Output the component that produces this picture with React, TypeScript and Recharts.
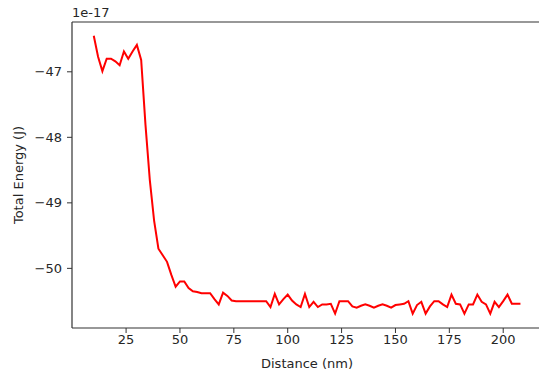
import React from 'react';
import { LineChart, Line, XAxis, YAxis, ReferenceLine } from 'recharts';

// Distance (nm)
const distance: number[] = [
  10, 12, 14, 16, 18, 20, 22, 24, 26, 28,
  30, 32, 34, 36, 38, 40, 42, 44, 46, 48,
  50, 52, 54, 56, 58, 60, 62, 64, 66, 68,
  70, 72, 74, 76, 78, 80, 82, 84, 86, 88,
  90, 92, 94, 96, 98, 100, 102, 104, 106, 108,
  110, 112, 114, 116, 118, 120, 122, 124, 126, 128,
  130, 132, 134, 136, 138, 140, 142, 144, 146, 148,
  150, 152, 154, 156, 158, 160, 162, 164, 166, 168,
  170, 172, 174, 176, 178, 180, 182, 184, 186, 188,
  190, 192, 194, 196, 198, 200, 202, 204, 206, 208,
];

// Total energy in units of 1e-17 J
const energy: number[] = [
  -46.45, -46.77, -46.99, -46.80, -46.80, -46.84, -46.90, -46.69, -46.80, -46.69,
  -46.59, -46.82, -47.81, -48.65, -49.27, -49.70, -49.80, -49.90, -50.10, -50.28,
  -50.20, -50.20, -50.30, -50.35, -50.36, -50.38, -50.38, -50.38, -50.47, -50.55,
  -50.37, -50.42, -50.49, -50.50, -50.50, -50.50, -50.50, -50.50, -50.50, -50.50,
  -50.50, -50.59, -50.39, -50.55, -50.47, -50.40, -50.49, -50.55, -50.59, -50.39,
  -50.59, -50.51, -50.59, -50.55, -50.55, -50.54, -50.69, -50.50, -50.50, -50.50,
  -50.58, -50.60, -50.57, -50.55, -50.57, -50.60, -50.57, -50.55, -50.57, -50.60,
  -50.56, -50.55, -50.54, -50.50, -50.69, -50.56, -50.51, -50.69, -50.58, -50.50,
  -50.50, -50.55, -50.59, -50.40, -50.54, -50.55, -50.69, -50.55, -50.55, -50.40,
  -50.51, -50.55, -50.69, -50.51, -50.59, -50.50, -50.40, -50.54, -50.54, -50.54,
];

const xTicks: number[] = [25, 50, 75, 100, 125, 150, 175, 200];
const yTicks: number[] = [-47, -48, -49, -50];
const X_DOMAIN: [number, number] = [-0.1, 218];
const Y_DOMAIN: [number, number] = [-50.91, -46.24];

const data = distance.map((d, i) => ({ distance: d, energy: energy[i] }));

const FONT = 'DejaVu Sans, sans-serif';
const INK = '#262626';
const AXIS = '#333333';

const fmtY = (v: number) => (v < 0 ? '\u2212' + Math.abs(v) : String(v));

export default function App() {
  return (
    <div
      style={{
        position: 'absolute',
        left: 0,
        top: 0,
        width: 539,
        height: 375,
        overflow: 'hidden',
        background: '#fff',
        fontFamily: FONT,
      }}
    >
      <div
        style={{
          position: 'absolute',
          left: 72,
          top: 5,
          fontSize: 13,
          color: INK,
          fontFamily: FONT,
          lineHeight: '16px',
        }}
      >
        1e-17
      </div>
      <LineChart
        width={560}
        height={375}
        data={data}
        margin={{ top: 22, right: 18, bottom: 0, left: 0 }}
      >
        <XAxis
          dataKey="distance"
          type="number"
          domain={X_DOMAIN}
          ticks={xTicks}
          allowDataOverflow
          height={47}
          tickSize={5}
          tickMargin={2}
          stroke={AXIS}
          tick={{ fill: INK, fontSize: 13, fontFamily: FONT }}
          tickLine={{ stroke: AXIS }}
          axisLine={{ stroke: AXIS, strokeWidth: 1.2 }}
          label={{
            value: 'Distance (nm)',
            position: 'insideBottom',
            offset: 7,
            fill: INK,
            fontSize: 13,
            fontFamily: FONT,
          }}
        />
        <YAxis
          type="number"
          domain={Y_DOMAIN}
          ticks={yTicks}
          allowDataOverflow
          width={72}
          tickSize={5}
          tickMargin={5}
          stroke={AXIS}
          tickFormatter={fmtY}
          tick={{ fill: INK, fontSize: 13, fontFamily: FONT }}
          tickLine={{ stroke: AXIS }}
          axisLine={{ stroke: AXIS, strokeWidth: 1.2 }}
          label={{
            value: 'Total Energy (J)',
            angle: -90,
            position: 'insideLeft',
            offset: 18,
            fill: INK,
            fontSize: 13,
            fontFamily: FONT,
            style: { textAnchor: 'middle' },
          }}
        />
        <ReferenceLine y={Y_DOMAIN[1]} stroke={AXIS} strokeWidth={1.2} />
        <Line
          type="linear"
          dataKey="energy"
          stroke="#ff0000"
          strokeWidth={2}
          dot={false}
          isAnimationActive={false}
        />
      </LineChart>
    </div>
  );
}
